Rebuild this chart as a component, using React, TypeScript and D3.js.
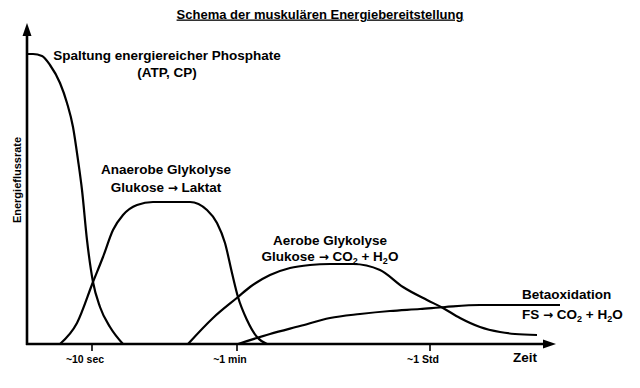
import React, { useRef, useEffect } from 'react';
import * as d3 from 'd3';

// schematic units: x = time (arbitrary), y = energy flux rate (arbitrary)
const phosphate: [number, number][] = [
  [0, 290], [6, 290], [15, 288], [23, 279], [33, 261], [40, 241], [46, 217],
  [51, 184], [55, 154], [60, 104], [66, 62], [73, 37], [83, 17], [96, 0],
];
const anaerob: [number, number][] = [
  [33, 0], [50, 21], [66, 62], [76, 87], [86, 114], [96, 129], [110, 139],
  [126, 142], [163, 142], [180, 134], [190, 121], [198, 101], [205, 71],
  [211, 47], [220, 24], [230, 7], [240, 0],
];
const aerob: [number, number][] = [
  [161, 0], [186, 26], [211, 47], [223, 57], [243, 69], [263, 76], [283, 79],
  [303, 80], [326, 80], [353, 74], [376, 57], [400, 44], [416, 36], [433, 26],
  [453, 17], [473, 12], [488, 10], [510, 9],
];
const betaox: [number, number][] = [
  [211, 0], [243, 10], [273, 18], [303, 26], [333, 30], [363, 33], [393, 35],
  [418, 37], [453, 39], [493, 39], [533, 39],
];
const tickValues = [65, 210, 403];
const tickLabels = ['~10 sec', '~1 min', '~1 Std'];

const FONT = '"Liberation Sans", Arial, sans-serif';
const ARROW_FONT = '"DejaVu Sans", sans-serif';

const App = () => {
  const svgRef = useRef<SVGSVGElement>(null);

  useEffect(() => {
    const width = 640;
    const height = 388;
    const svg = d3.select(svgRef.current);
    svg.selectAll('*').remove();
    svg.attr('width', width).attr('height', height);

    const x = d3.scaleLinear().domain([0, 530]).range([27, 557]);
    const y = d3.scaleLinear().domain([0, 324]).range([344, 20]);

    svg.append('rect').attr('width', width).attr('height', height).attr('fill', '#fff');

    // title
    svg.append('text')
      .attr('x', 320).attr('y', 18.5)
      .attr('text-anchor', 'middle')
      .attr('font-family', FONT).attr('font-size', 13).attr('font-weight', 'bold')
      .style('text-decoration', 'underline')
      .text('Schema der muskulären Energiebereitstellung');

    // axes
    const x0 = x(0), y0 = y(0);
    svg.append('line')
      .attr('x1', x0).attr('y1', y0 + 1).attr('x2', x0).attr('y2', 34)
      .attr('stroke', '#000').attr('stroke-width', 2.6);
    svg.append('path')
      .attr('d', `M${x0},23 L${x0 - 4.5},36 L${x0 + 4.5},36 Z`).attr('fill', '#000');
    svg.append('line')
      .attr('x1', x0 - 1).attr('y1', y0).attr('x2', 546).attr('y2', y0)
      .attr('stroke', '#000').attr('stroke-width', 2.6);
    svg.append('path')
      .attr('d', `M556,${y0} L543,${y0 - 4.5} L543,${y0 + 4.5} Z`).attr('fill', '#000');

    // ticks
    tickValues.forEach((t, i) => {
      svg.append('line')
        .attr('x1', x(t)).attr('x2', x(t)).attr('y1', y0).attr('y2', y0 + 7)
        .attr('stroke', '#000').attr('stroke-width', 1.6);
      svg.append('text')
        .attr('x', x(t) - 7).attr('y', 363)
        .attr('text-anchor', 'middle')
        .attr('font-family', FONT).attr('font-size', 10.5).attr('font-weight', 'bold')
        .text(tickLabels[i]);
    });

    svg.append('text')
      .attr('x', 513).attr('y', 362)
      .attr('font-family', FONT).attr('font-size', 13.5).attr('font-weight', 'bold')
      .text('Zeit');

    svg.append('text')
      .attr('transform', 'translate(21,180) rotate(-90)')
      .attr('text-anchor', 'middle')
      .attr('font-family', FONT).attr('font-size', 11).attr('font-weight', 'bold')
      .text('Energieflussrate');

    // curves
    const line = d3.line<[number, number]>()
      .x(d => x(d[0]))
      .y(d => y(d[1]))
      .curve(d3.curveMonotoneX);

    [phosphate, anaerob, aerob, betaox].forEach(series => {
      svg.append('path')
        .datum(series)
        .attr('d', line)
        .attr('fill', 'none')
        .attr('stroke', '#000')
        .attr('stroke-width', 2.2);
    });

    // labels
    const label = (tx: number, ty: number, anchor: string) =>
      svg.append('text')
        .attr('x', tx).attr('y', ty)
        .attr('text-anchor', anchor)
        .attr('font-family', FONT).attr('font-size', 13.5).attr('font-weight', 'bold');

    const arrow = (t: any) =>
      t.append('tspan').attr('font-family', ARROW_FONT).attr('font-size', 12).text('→');

    const formula = (tx: number, ty: number, anchor: string, lhs: string) => {
      const t = label(tx, ty, anchor);
      t.append('tspan').text(`${lhs} `);
      arrow(t);
      t.append('tspan').text(' CO');
      t.append('tspan').attr('font-size', 9).attr('dy', 3).text('2');
      t.append('tspan').attr('dy', -3).text(' + H');
      t.append('tspan').attr('font-size', 9).attr('dy', 3).text('2');
      t.append('tspan').attr('dy', -3).text('O');
    };

    label(167, 60, 'middle').text('Spaltung energiereicher Phosphate');
    label(167, 77, 'middle').text('(ATP, CP)');
    label(166, 174, 'middle').text('Anaerobe Glykolyse');
    const lak = label(166, 192, 'middle');
    lak.append('tspan').text('Glukose ');
    arrow(lak);
    lak.append('tspan').text('  Laktat');
    label(330, 245, 'middle').text('Aerobe Glykolyse');
    formula(330, 261, 'middle', 'Glukose');
    label(522, 299, 'start').text('Betaoxidation');
    formula(522, 319, 'start', 'FS');
  }, []);

  return (
    <svg ref={svgRef} style={{ position: 'absolute', left: 0, top: 0, display: 'block' }}></svg>
  );
};

export default App;
